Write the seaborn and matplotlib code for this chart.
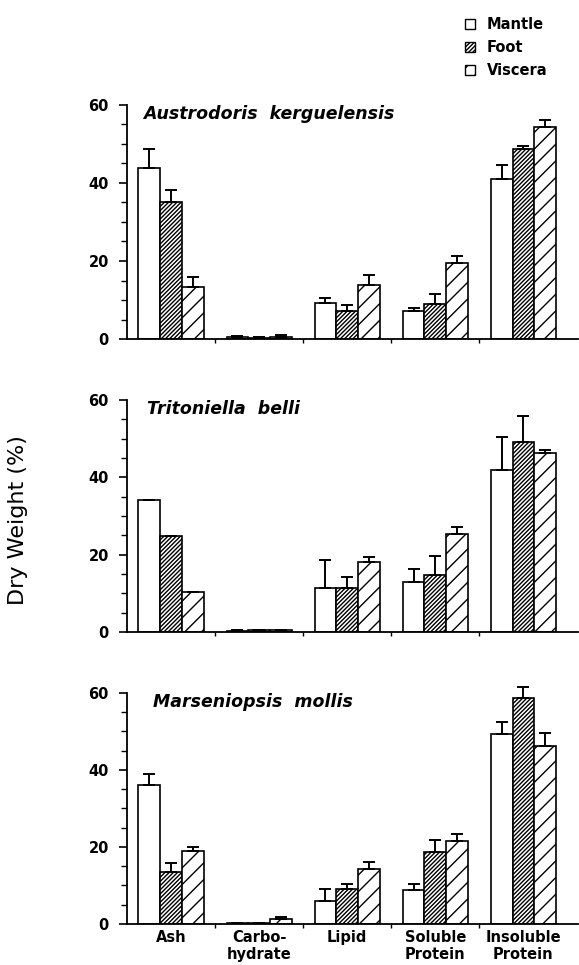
import numpy as np
import pandas as pd
import matplotlib
matplotlib.use('Agg')
import matplotlib.pyplot as plt
from matplotlib.patches import Patch
from matplotlib.ticker import MultipleLocator, FixedLocator
import seaborn as sns

sns.set_style('ticks')
plt.rcParams['font.family'] = ['DejaVu Sans']
plt.rcParams['hatch.linewidth'] = 1.0
plt.rcParams['text.color'] = 'black'
plt.rcParams['xtick.color'] = 'black'
plt.rcParams['ytick.color'] = 'black'
plt.rcParams['axes.edgecolor'] = 'black'

components = ['Ash', 'Carbo-\nhydrate', 'Lipid', 'Soluble\nProtein', 'Insoluble\nProtein']
tissues = ['Mantle', 'Foot', 'Viscera']
species = ['Austrodoris  kerguelensis', 'Tritoniella  belli', 'Marseniopsis  mollis']

# mean % dry weight, one list per tissue (order of components)
austro_mantle = [43.9, 0.4, 9.3, 7.1, 41.0]
austro_foot = [35.1, 0.3, 7.2, 8.9, 48.8]
austro_visc = [13.4, 0.6, 13.8, 19.5, 54.3]
austro_mantle_sd = [4.7, 0.3, 1.2, 0.9, 3.5]
austro_foot_sd = [3.0, 0.2, 1.5, 2.6, 0.6]
austro_visc_sd = [2.4, 0.3, 2.7, 1.8, 1.8]

trito_mantle = [34.1, 0.3, 11.5, 12.9, 41.9]
trito_foot = [24.8, 0.4, 11.5, 14.7, 49.2]
trito_visc = [10.4, 0.4, 18.0, 25.3, 46.4]
trito_mantle_sd = [np.nan, 0.2, 7.1, 3.3, 8.4]
trito_foot_sd = [np.nan, 0.2, 2.6, 5.0, 6.7]
trito_visc_sd = [np.nan, 0.2, 1.5, 1.9, 0.7]

marse_mantle = [36.2, 0.2, 6.1, 8.8, 49.3]
marse_foot = [13.6, 0.2, 9.1, 18.8, 58.6]
marse_visc = [19.0, 1.3, 14.4, 21.6, 46.3]
marse_mantle_sd = [2.8, np.nan, 3.0, 1.7, 3.1]
marse_foot_sd = [2.2, np.nan, 1.4, 3.0, 3.0]
marse_visc_sd = [1.1, 0.6, 1.7, 1.7, 3.4]

means = [
    [austro_mantle, austro_foot, austro_visc],
    [trito_mantle, trito_foot, trito_visc],
    [marse_mantle, marse_foot, marse_visc],
]
sds = [
    [austro_mantle_sd, austro_foot_sd, austro_visc_sd],
    [trito_mantle_sd, trito_foot_sd, trito_visc_sd],
    [marse_mantle_sd, marse_foot_sd, marse_visc_sd],
]

hatches = ['', '////////', '//']
title_x = [0.035, 0.044, 0.058]

fig = plt.figure(figsize=(5.79, 9.65), dpi=100)
boxes = [[0.2193, 0.6487, 0.779, 0.2425],
         [0.2193, 0.3451, 0.779, 0.2404],
         [0.2193, 0.0425, 0.779, 0.2394]]

for k in range(3):
    ax = fig.add_axes(boxes[k])
    rows = []
    for t in range(3):
        for c in range(5):
            rows.append({'component': components[c], 'tissue': tissues[t], 'value': means[k][t][c]})
    df = pd.DataFrame(rows)
    sns.barplot(data=df, x='component', y='value', hue='tissue', order=components,
                hue_order=tissues, palette=['white'] * 3, saturation=1, width=0.74,
                edgecolor='black', linewidth=1.2, errorbar=None, legend=False, ax=ax)
    bar_groups = list(ax.containers)
    for t, cont in enumerate(bar_groups):
        xs, ys = [], []
        for bar in cont:
            bar.set_hatch(hatches[t])
            xs.append(bar.get_x() + bar.get_width() / 2)
            ys.append(bar.get_height())
        err = np.array(sds[k][t], dtype=float)
        eb = ax.errorbar(xs, ys, yerr=[np.zeros(5), err], fmt='none', ecolor='black',
                         elinewidth=1.4, capsize=4.3, capthick=1.4, zorder=1)
        for art in eb.lines[1] + eb.lines[2]:
            art.set_clip_on(False)
    ax.set_xlim(-0.5, 4.62)
    ax.set_ylim(0, 60)
    sns.despine(ax=ax)
    ax.spines['left'].set_linewidth(1.3)
    ax.spines['bottom'].set_linewidth(1.3)
    ax.yaxis.set_major_locator(MultipleLocator(20))
    ax.yaxis.set_minor_locator(MultipleLocator(5))
    ax.tick_params(axis='y', which='major', length=6, width=1.2, labelsize=10.5, pad=7)
    ax.tick_params(axis='y', which='minor', length=4, width=1.0)
    for lab in ax.get_yticklabels():
        lab.set_fontweight('bold')
    ax.xaxis.set_minor_locator(FixedLocator([0.5, 1.5, 2.5, 3.5]))
    ax.tick_params(axis='x', which='minor', length=3, width=1.0, direction='out')
    ax.tick_params(axis='x', which='major', length=0, labelsize=10.5, pad=4)
    if k < 2:
        ax.set_xticklabels([])
    else:
        for lab in ax.get_xticklabels():
            lab.set_fontweight('bold')
            lab.set_linespacing(1.2)
    ax.set_xlabel('')
    ax.set_ylabel('')
    ax.text(title_x[k], 1.0, species[k], transform=ax.transAxes, ha='left', va='top',
            fontsize=12.5, fontweight='bold', fontstyle='italic')

fig.text(0.031, 0.461, 'Dry Weight (%)', rotation=90, ha='center', va='center',
         fontsize=16)

handles = [Patch(facecolor='white', edgecolor='black', hatch=h, linewidth=1.0) for h in hatches]
fig.legend(handles, tissues, loc='upper left', bbox_to_anchor=(0.79, 0.99), frameon=False,
           handlelength=0.7, handleheight=0.7, handletextpad=0.8, labelspacing=0.55,
           borderpad=0, prop={'weight': 'bold', 'size': 10.5})

fig.savefig('out.png', dpi=100)
